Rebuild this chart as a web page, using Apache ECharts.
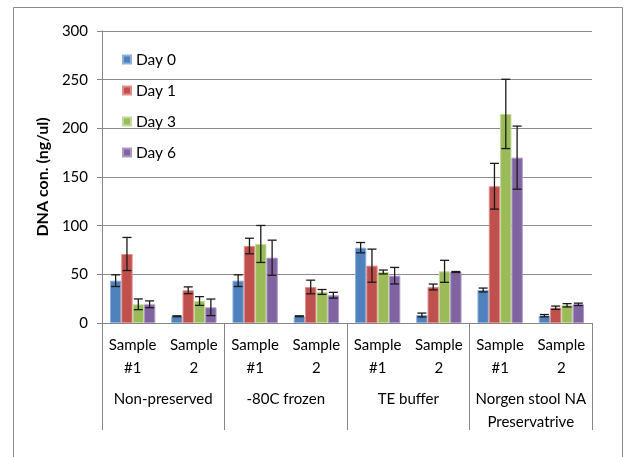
<!DOCTYPE html>
<html>
<head>
<meta charset="utf-8">
<script src="https://cdn.jsdelivr.net/npm/echarts@6/dist/echarts.min.js"></script>
<style>
html,body{margin:0;padding:0;background:#fff;}
#c{width:626px;height:457px;}
</style>
</head>
<body>
<div id="c"></div>
<script>
var subCategories = ['Sample\n#1', 'Sample\n2', 'Sample\n#1', 'Sample\n2', 'Sample\n#1', 'Sample\n2', 'Sample\n#1', 'Sample\n2'];
var groups = ['Non-preserved', '-80C frozen', 'TE buffer', 'Norgen stool NA\nPreservatrive'];
var seriesNames = ['Day 0', 'Day 1', 'Day 3', 'Day 6'];
var day0 = [43.5, 6.9, 43.5, 6.9, 77.4, 8.2, 33.9, 7.5];
var day1 = [70.9, 33.6, 79.1, 37.0, 58.9, 37.0, 140.5, 15.7];
var day3 = [19.2, 22.6, 81.2, 31.9, 52.4, 53.1, 214.8, 18.2];
var day6 = [19.2, 16.1, 67.1, 28.5, 48.6, 52.4, 169.9, 19.2];
var err0 = [6, 0.5, 6, 0.5, 5.3, 2, 2, 1.2];
var err1 = [17, 3.5, 8, 7, 17, 3, 23.5, 1.7];
var err3 = [5.5, 4.5, 19, 2.5, 2, 11.3, 35.6, 1.7];
var err6 = [3.5, 8.5, 18, 3, 8.5, 0.5, 32.4, 1.2];
var yTicks = [0, 50, 100, 150, 200, 250, 300];

var colors = ['#4F81BD', '#C0504D', '#9BBB59', '#8064A2'];
var borders = ['#8FB0DA', '#E08E8C', '#C3D99A', '#AE97C9'];
var values = [day0, day1, day3, day6];
var errs = [err0, err1, err3, err6];
var FONT = 'Lato, "Open Sans", sans-serif';
var CAT_GAP = 0.26;

var chart = echarts.init(document.getElementById('c'));
var series = [];
values.forEach(function (vals, si) {
  series.push({
    name: seriesNames[si],
    type: 'bar',
    xAxisIndex: 0,
    yAxisIndex: 0,
    data: vals,
    barGap: '0%',
    barCategoryGap: (CAT_GAP * 100) + '%',
    itemStyle: { color: colors[si], borderColor: borders[si], borderWidth: 1 },
    z: 2
  });
});
values.forEach(function (vals, si) {
  var d = vals.map(function (v, i) { return [i, v, errs[si][i]]; });
  series.push({
    type: 'custom',
    xAxisIndex: 0,
    yAxisIndex: 0,
    data: d,
    z: 5,
    silent: true,
    encode: { x: 0, y: 1 },
    renderItem: function (params, api) {
      var idx = api.value(0);
      var v = api.value(1);
      var e = api.value(2);
      var band = api.size([1, 0])[0];
      var bw = band * (1 - CAT_GAP) / 4;
      var c = api.coord([idx, v]);
      var x = c[0] - band * (1 - CAT_GAP) / 2 + bw * (si + 0.5);
      var yt = api.coord([idx, v + e])[1];
      var yb = api.coord([idx, v - e])[1];
      var hw = 4.5;
      var st = { stroke: '#1a1a1a', lineWidth: 1.3 };
      return {
        type: 'group',
        children: [
          { type: 'line', shape: { x1: x, y1: yt, x2: x, y2: yb }, style: st },
          { type: 'line', shape: { x1: x - hw, y1: yt, x2: x + hw, y2: yt }, style: st },
          { type: 'line', shape: { x1: x - hw, y1: yb, x2: x + hw, y2: yb }, style: st }
        ]
      };
    }
  });
});

chart.setOption({
  animation: false,
  backgroundColor: '#fff',
  textStyle: { fontFamily: FONT },
  graphic: [{
    type: 'rect',
    shape: { x: 13.5, y: 7.5, width: 609, height: 470 },
    style: { fill: 'none', stroke: '#8a8a8a', lineWidth: 1 },
    silent: true, z: -1
  }],
  grid: { left: 102, right: 34, top: 31, bottom: 134, containLabel: false },
  legend: {
    orient: 'vertical',
    left: 117,
    top: 46,
    itemWidth: 8,
    itemHeight: 8,
    itemGap: 14,
    icon: 'rect',
    data: seriesNames,
    textStyle: { fontFamily: FONT, fontSize: 15.5, color: '#000', lineHeight: 17 }
  },
  xAxis: [{
    type: 'category',
    data: subCategories,
    position: 'bottom',
    axisLine: { show: true, lineStyle: { color: '#868686', width: 1 } },
    axisTick: { show: false },
    axisLabel: { interval: 0, margin: 11, fontFamily: FONT, fontSize: 15, color: '#000', lineHeight: 23, align: 'center' },
    splitLine: { show: false }
  }, {
    type: 'category',
    data: groups,
    position: 'bottom',
    axisLine: { show: false },
    axisTick: { show: true, length: 107, lineStyle: { color: '#868686', width: 1 } },
    axisLabel: { interval: 0, margin: 65, fontFamily: FONT, fontSize: 15, color: '#000', lineHeight: 23, align: 'center' },
    splitLine: { show: false }
  }],
  yAxis: {
    type: 'value',
    min: yTicks[0],
    max: yTicks[yTicks.length - 1],
    interval: 50,
    name: 'DNA con. (ng/ul)',
    nameLocation: 'middle',
    nameRotate: 90,
    nameGap: 46,
    nameTextStyle: { fontFamily: FONT, fontSize: 16, fontWeight: 'bold', color: '#000' },
    axisLine: { show: true, lineStyle: { color: '#868686', width: 1 } },
    axisTick: { show: true, length: 5, lineStyle: { color: '#868686' } },
    axisLabel: { margin: 14, fontFamily: FONT, fontSize: 15, color: '#000' },
    splitLine: { show: true, lineStyle: { color: '#8c8c8c', width: 1 } }
  },
  series: series
});
</script>
</body>
</html>
